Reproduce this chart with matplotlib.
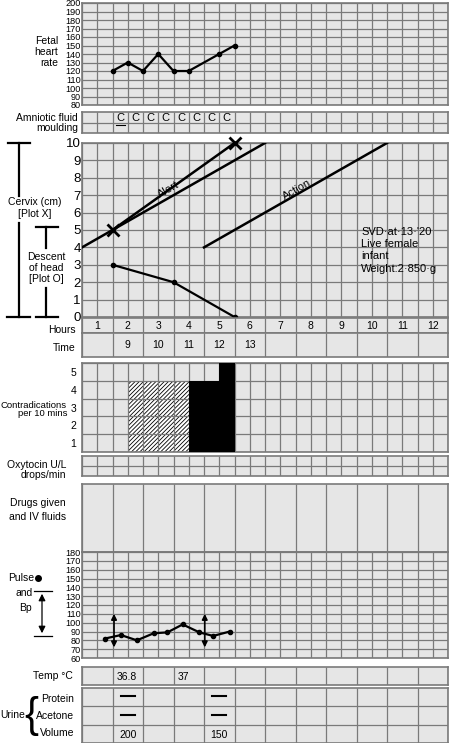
import matplotlib
matplotlib.use("Agg")
import matplotlib.pyplot as plt
import numpy as np

plt.rcParams['font.family'] = ['Liberation Sans', 'DejaVu Sans']
plt.rcParams['hatch.linewidth'] = 0.6

W, H = 450, 743
# ---- data ----
fhr_x = [2, 3, 4, 5, 6, 7, 9, 10]
fhr_y = [120, 130, 120, 140, 120, 120, 140, 150]
amniotic_cols = [2, 3, 4, 5, 6, 7, 8, 9]
amniotic_vals = ["C"] * 8
cervix_x = [2, 10]
cervix_y = [5, 10]
alert_x = [0, 12]; alert_y = [4, 10]
action_x = [8, 20]; action_y = [4, 10]
descent_x = [2, 6, 10]
descent_y = [3, 2, 0]
hours = list(range(1, 13))
times = {2: "9", 3: "10", 4: "11", 5: "12", 6: "13"}
hatched_cols = [3, 4, 5, 6]; hatched_h = [4, 4, 4, 4]
solid_cols = [7, 8, 9]; solid_h = [4, 4, 5]
pulse_x = [1.5, 2.55, 3.6, 4.7, 5.6, 6.6, 7.7, 8.6, 9.7]
pulse_y = [82, 86, 80, 88, 89, 98, 89, 85, 90]
bp_x = [2.1, 8.05]; bp_sys = [110, 110]; bp_dia = [72, 72]
temp = {2: "36.8", 4: "37"}
protein = {2: "—", 5: "—"}
acetone = {2: "—", 5: "—"}
volume = {2: "200", 5: "150"}

BG = "#e6e6e6"; GC = "#7a7a7a"
fig = plt.figure(figsize=(W/100, H/100), dpi=100)

def axp(x0, y0, x1, y1):
    return fig.add_axes([x0/W, 1-y1/H, (x1-x0)/W, (y1-y0)/H])

X0, X1 = 82, 448

def gridax(y0, y1, xs, ylim, ys, lw=0.9):
    ax = axp(X0, y0, X1, y1)
    ax.set_facecolor(BG)
    ax.set_xlim(0, 24); ax.set_ylim(*ylim)
    ax.vlines(xs, ylim[0], ylim[1], color=GC, lw=lw, zorder=2)
    ax.hlines(ys, 0, 24, color=GC, lw=lw, zorder=2)
    for s in ax.spines.values():
        s.set_color(GC); s.set_linewidth(1.2)
    ax.set_xticks([])
    ax.tick_params(length=0, pad=1)
    return ax

# FHR
ax = gridax(3, 105, range(25), (80, 200), range(80, 201, 10))
ax.set_yticks(range(80, 201, 10)); ax.set_yticklabels(range(80, 201, 10), fontsize=6.6)
ax.plot(fhr_x, fhr_y, 'k-', marker='o', ms=3, lw=1.6, zorder=5, clip_on=False)

# Amniotic
ax = gridax(112, 133, range(25), (0, 2), [1])
ax.set_yticks([])
for c, v in zip(amniotic_cols, amniotic_vals):
    ax.text(c + 0.5, 1.45, v, ha='center', va='center', fontsize=8, zorder=5)
ax.plot([2.2, 2.8], [0.75, 0.75], 'k-', lw=0.8, zorder=5)

# Cervix
ax = gridax(143, 317, range(25), (0, 10), range(11))
ax.set_yticks(range(11)); ax.set_yticklabels(range(11), fontsize=9.5)
ax.plot(alert_x, alert_y, 'k-', lw=1.8, zorder=4)
ax.plot(action_x, action_y, 'k-', lw=1.8, zorder=4)
ax.plot(cervix_x, cervix_y, 'k-', lw=1.8, zorder=4)
ax.plot(cervix_x, cervix_y, 'kx', ms=8, mew=2, zorder=5, clip_on=False)
ax.plot(descent_x, descent_y, 'k-', marker='o', ms=3, lw=1.6, zorder=5, clip_on=False)
ax.text(5.7, 7.3, "Alert", rotation=30, fontsize=8, ha='center', va='center', zorder=5)
ax.text(14.1, 7.3, "Action", rotation=30, fontsize=8, ha='center', va='center', zorder=5)
ax.text(18.3, 5.2, "SVD·at·13·'20\nLive female\ninfant\nWeight:2·850·g",
        fontsize=8, va='top', ha='left', linespacing=1.3, zorder=5)

# Hours row
ax = gridax(318, 333, range(0, 25, 2), (0, 1), [])
ax.set_yticks([])
for i, h in enumerate(hours):
    ax.text(2*i + 1, 0.5, str(h), ha='center', va='center', fontsize=7.5)
# Time row
ax = gridax(333, 357, range(0, 25, 2), (0, 1), [])
ax.set_yticks([])
for k, t in times.items():
    ax.text(2*(k-1) + 1, 0.5, t, ha='center', va='center', fontsize=7.5)

# Contractions
ax = gridax(363, 452, range(25), (0, 5), range(6))
ax.set_yticks([0.5, 1.5, 2.5, 3.5, 4.5]); ax.set_yticklabels([1, 2, 3, 4, 5], fontsize=7.5)
ax.tick_params(pad=4)
ax.bar(hatched_cols, hatched_h, width=1, align='edge', color='white', edgecolor='black',
       hatch='////////', lw=0, zorder=1)
ax.bar(solid_cols, solid_h, width=1, align='edge', color='black', lw=0, zorder=3)

# Oxytocin
ax = gridax(456, 476, range(25), (0, 2), [1])
ax.set_yticks([])

# Drugs
ax = gridax(484, 552, range(0, 25, 2), (0, 1), [])
ax.set_yticks([])

# Pulse / BP
ax = gridax(552, 658, range(25), (60, 180), range(60, 181, 10))
ax.set_yticks(range(60, 181, 10)); ax.set_yticklabels(range(60, 181, 10), fontsize=6.6)
ax.plot(pulse_x, pulse_y, 'k-', marker='o', ms=3, lw=1.6, zorder=5)
for x, s, d in zip(bp_x, bp_sys, bp_dia):
    ax.annotate("", xy=(x, s), xytext=(x, d),
                arrowprops=dict(arrowstyle='<|-|>', color='k', lw=1.2, shrinkA=0, shrinkB=0,
                                mutation_scale=8), zorder=6)

# Temp
ax = gridax(667, 685, range(0, 25, 2), (0, 1), [])
ax.set_yticks([])
for k, t in temp.items():
    ax.text(2*(k-1) + 0.3, 0.45, t, ha='left', va='center', fontsize=7.5)

# Urine
ax = gridax(688, 743, range(0, 25, 2), (0, 3), [1, 2])
ax.set_yticks([])
for k, t in protein.items():
    ax.plot([2*(k-1)+0.55, 2*(k-1)+1.45], [2.55, 2.55], 'k-', lw=1.5)
for k, t in acetone.items():
    ax.plot([2*(k-1)+0.55, 2*(k-1)+1.45], [1.55, 1.55], 'k-', lw=1.5)
for k, t in volume.items():
    ax.text(2*(k-1) + 1, 0.45, t, ha='center', va='center', fontsize=7.5)

# ---- overlay for labels ----
ov = fig.add_axes([0, 0, 1, 1], zorder=10)
ov.set_xlim(0, W); ov.set_ylim(H, 0); ov.axis('off'); ov.patch.set_alpha(0)
fs = 7.5
ov.text(58, 52, "Fetal\nheart\nrate", ha='right', va='center', fontsize=fs, linespacing=1.15)
ov.text(78, 118, "Amniotic fluid", ha='right', va='center', fontsize=fs)
ov.text(78, 128, "moulding", ha='right', va='center', fontsize=fs)
ov.text(35, 208, "Cervix (cm)\n[Plot X]", ha='center', va='center', fontsize=fs, linespacing=1.2)
ov.text(46, 268, "Descent\nof head\n[Plot O]", ha='center', va='center', fontsize=fs, linespacing=1.1)
ov.plot([19, 19], [143, 196], 'k-', lw=1.6); ov.plot([19, 19], [223, 317], 'k-', lw=1.6)
ov.plot([8, 30], [143, 143], 'k-', lw=1.6); ov.plot([7, 30], [317, 317], 'k-', lw=1.6)
ov.plot([46, 46], [227, 248], 'k-', lw=1.6); ov.plot([46, 46], [288, 317], 'k-', lw=1.6)
ov.plot([36, 58], [227, 227], 'k-', lw=1.6); ov.plot([36, 58], [317, 317], 'k-', lw=1.6)
ov.text(76, 330, "Hours", ha='right', va='center', fontsize=fs)
ov.text(76, 348, "Time", ha='right', va='center', fontsize=fs)
ov.text(67, 405, "Contradications", ha='right', va='center', fontsize=6.8)
ov.text(67, 414, "per 10 mins", ha='right', va='center', fontsize=6.8)
ov.text(66, 470, "Oxytocin U/L\ndrops/min", ha='right', va='center', fontsize=fs, linespacing=1.0, ma='right')
ov.text(66, 510, "Drugs given\nand IV fluids", ha='right', va='center', fontsize=fs, linespacing=1.6, ma='right')
ov.text(8, 578, "Pulse", ha='left', va='center', fontsize=fs)
ov.plot([38], [578], 'ko', ms=4)
ov.text(15, 593, "and", ha='left', va='center', fontsize=fs)
ov.text(19, 608, "Bp", ha='left', va='center', fontsize=fs)
ov.plot([34, 52], [591, 591], 'k-', lw=0.9); ov.plot([34, 52], [636, 636], 'k-', lw=0.9)
ov.annotate("", xy=(42, 591), xytext=(42, 636), arrowprops=dict(arrowstyle='<|-|>', color='k', lw=0.9))
ov.text(73, 676, "Temp °C", ha='right', va='center', fontsize=fs)
ov.text(74, 699, "Protein", ha='right', va='center', fontsize=fs)
ov.text(74, 716, "Acetone", ha='right', va='center', fontsize=fs)
ov.text(74, 733, "Volume", ha='right', va='center', fontsize=fs)
ov.text(0, 715, "Urine", ha='left', va='center', fontsize=fs)
ov.text(31, 716, "{", ha='center', va='center', fontsize=30, fontweight='light')

fig.savefig("out.png", dpi=100)
